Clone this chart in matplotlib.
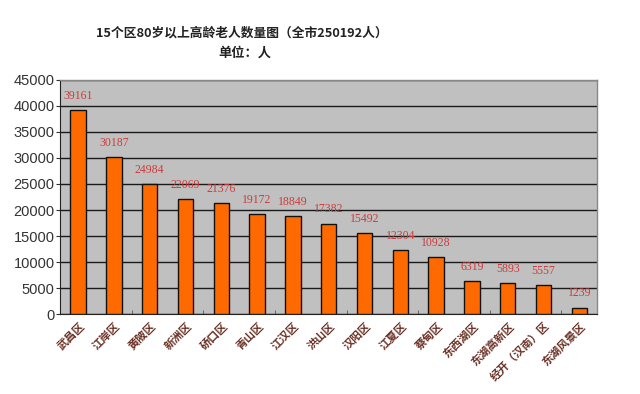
import matplotlib
matplotlib.use("Agg")
import matplotlib.pyplot as plt
import numpy as np

plt.rcParams['font.family'] = ['Noto Sans CJK SC', 'DejaVu Sans']

districts = ["武昌区", "江岸区", "黄陂区", "新洲区", "硚口区", "青山区", "江汉区", "洪山区",
             "汉阳区", "江夏区", "蔡甸区", "东西湖区", "东湖高新区", "经开（汉南）区", "东湖风景区"]
counts = [39161, 30187, 24984, 22069, 21376, 19172, 18849, 17382,
          15492, 12304, 10928, 6319, 5893, 5557, 1239]
yticks = [0, 5000, 10000, 15000, 20000, 25000, 30000, 35000, 40000, 45000]
title_line1 = "15个区80岁以上高龄老人数量图（全市250192人）"
title_line2 = "单位：人"

fig = plt.figure(figsize=(6.4, 3.94), dpi=100)
ax = fig.add_axes([0.094, 0.203, 0.839, 0.594])
ax.set_facecolor('#c0c0c0')

x = np.arange(len(districts))
ax.set_axisbelow(True)
ax.yaxis.grid(True, color='#1a1a1a', linewidth=1.0)
bars = ax.bar(x, counts, width=0.43, color='#ff6a00', edgecolor='#111111', linewidth=1.0, zorder=3)

for xi, v in zip(x, counts):
    ax.annotate(str(v), (xi, v), xytext=(0, 6), textcoords='offset points',
                ha='center', va='bottom', fontsize=8.5, color='#cc3b3b',
                family=['Liberation Serif', 'DejaVu Serif'], zorder=4)

ax.set_xlim(-0.5, len(districts) - 0.5)
ax.set_ylim(0, 45000)
ax.set_yticks(yticks)
ax.set_yticklabels([str(t) for t in yticks], family=['Liberation Sans', 'DejaVu Sans'],
                   fontsize=10.5, color='#333333')
ax.tick_params(axis='y', length=3, color='#333333', pad=1)

ax.set_xticks(x)
ax.set_xticklabels(districts, rotation=45, ha='right', rotation_mode='anchor',
                   fontsize=8, fontweight='bold', color='#6a3024')
ax.tick_params(axis='x', length=0, pad=4)
ax.set_xticks(np.arange(1.5, len(districts) - 1, 2), minor=True)
ax.tick_params(axis='x', which='minor', direction='in', length=3, color='#555555')

for s in ['top', 'right']:
    ax.spines[s].set_color('#888888')
    ax.spines[s].set_linewidth(1.0)
ax.spines['left'].set_color('#222222')
ax.spines['bottom'].set_color('#222222')

fig.text(0.378, 0.915, title_line1, ha='center', va='center', fontsize=9.2, fontweight='bold', color='#222222')
fig.text(0.383, 0.866, title_line2, ha='center', va='center', fontsize=9.5, fontweight='bold', color='#222222')

fig.savefig('out.png', dpi=100)
